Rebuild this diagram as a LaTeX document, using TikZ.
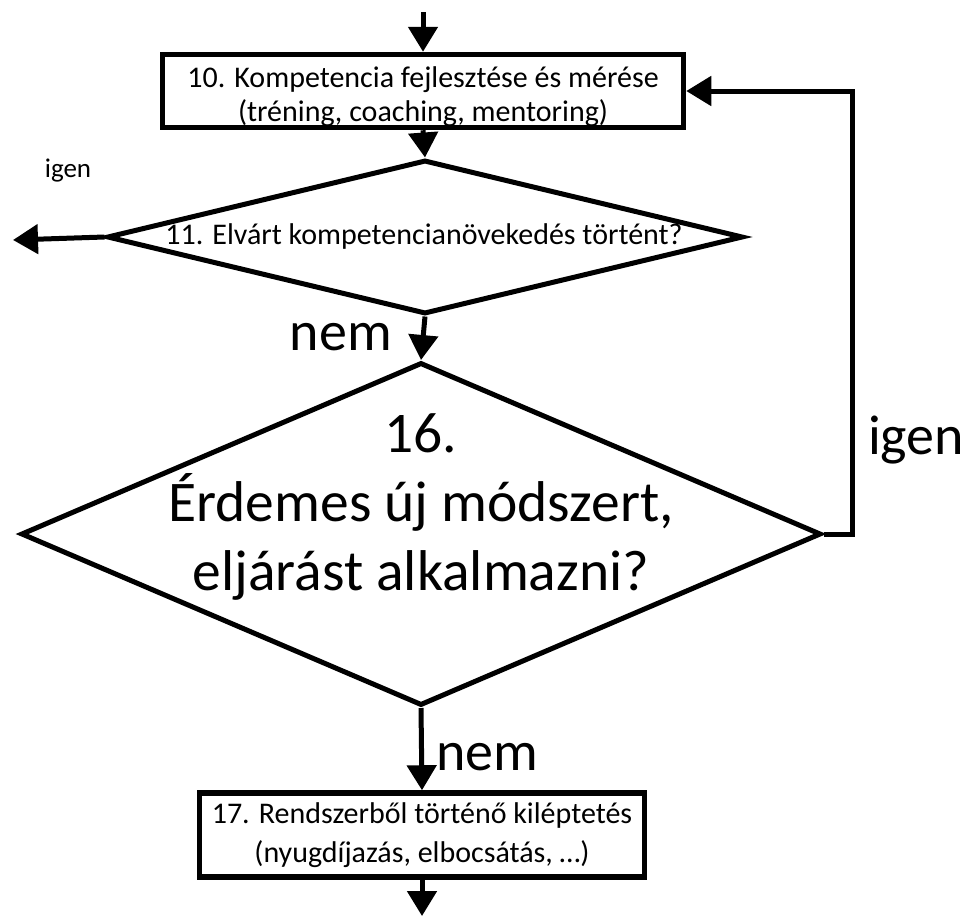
\documentclass[tikz,border=0pt]{standalone}
\usepackage{fontspec}
\setmainfont{Carlito}
\usetikzlibrary{positioning,shapes.geometric,arrows.meta}

\begin{document}
\begin{tikzpicture}[
  x=1pt, y=1pt,
  font=\fontsize{30}{34}\selectfont,
  box/.style={draw=black, line width=5.5pt, inner sep=0pt, align=center, fill=white},
  dec/.style={draw=black, line width=5pt, shape=diamond, inner sep=0pt},
  txt/.style={align=center, inner sep=0pt},
  big/.style={font=\fontsize{56}{68}\selectfont, inner sep=0pt},
  small/.style={font=\fontsize{27}{32}\selectfont, inner sep=0pt},
  flow/.style={-{Triangle[length=25pt, width=29pt]}, line width=5pt, draw=black},
]
\useasboundingbox (0,0) rectangle (973,-916);

% ---- top box ----
\coordinate (in) at (423,-12);
\node[box, minimum width=521pt, minimum height=73pt] (komp) at (423,-91) {};
\node[txt] (komptxt) at ([yshift=-6pt]komp.center)
  {10. Kompetencia fejlesztése és mérése\\(tréning, coaching, mentoring)};

% ---- first decision ----
\node[dec, minimum width=636pt, minimum height=154pt] (elv) at (425,-237) {};
\node[txt] (elvtxt) at (424,-236) {11. Elvárt kompetencianövekedés történt?};
\coordinate (ki) at (13,-240);
\node[small, anchor=base] (igen1) at (68,-177) {igen};

% ---- second decision ----
\node[dec, minimum width=800pt, minimum height=343pt] (uj) at (421,-534) {};
\node[txt, font=\fontsize{57.5}{69}\selectfont] (ujtxt) at (421,-507)
  {16.\\Érdemes új módszert,\\eljárást alkalmazni?};
\node[big, anchor=base] (nem1) at (341,-350) {nem};
\node[big, anchor=base] (igen2) at (916,-454) {igen};
\node[big, anchor=base west] (nem2) at (436,-770) {nem};
\coordinate (fel) at (852,-534);

% ---- bottom box ----
\node[box, minimum width=445pt, minimum height=84pt,
      font=\fontsize{30}{39}\selectfont] (kilep) at (422,-835)
  {17. Rendszerből történő kiléptetés\\(nyugdíjazás, elbocsátás, \dots)};
\coordinate (out) at (422,-916);

\draw[flow] (in) -- (komp.north);
\draw[flow] (komp.south) -- (elv.north);
\draw[flow] (elv.west) -- (ki);
\draw[flow] (elv.south) -- (uj.north);
\draw[flow] (uj.east) -- (fel) |- (komp.east);
\draw[flow] (uj.south) -- (kilep.north);
\draw[flow] (kilep.south) -- (out);
\end{tikzpicture}
\end{document}
